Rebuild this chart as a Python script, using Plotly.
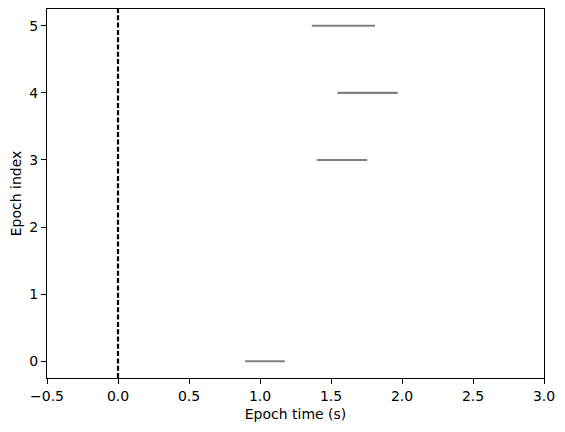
import plotly.graph_objects as go

epoch_index = [0, 3, 4, 5]
start_times = [0.895, 1.40, 1.545, 1.365]
end_times = [1.175, 1.755, 1.97, 1.81]
x_ticks = [-0.5, 0.0, 0.5, 1.0, 1.5, 2.0, 2.5, 3.0]
x_tick_labels = ["\u22120.5", "0.0", "0.5", "1.0", "1.5", "2.0", "2.5", "3.0"]
y_ticks = [0, 1, 2, 3, 4, 5]

fig = go.Figure()
xs, ys = [], []
for e, s, t in zip(epoch_index, start_times, end_times):
    xs += [s, t, None]
    ys += [e, e, None]
fig.add_trace(go.Scatter(x=xs, y=ys, mode="lines",
                         line=dict(color="#808080", width=2.1),
                         showlegend=False, hoverinfo="skip"))
fig.add_trace(go.Scatter(x=[0, 0], y=[-0.25, 5.25], mode="lines",
                         line=dict(color="black", width=2.2, dash="5px,2.3px"),
                         showlegend=False, hoverinfo="skip"))

axis_common = dict(showgrid=False, zeroline=False, showline=True, linecolor="black",
                   linewidth=1, mirror=True, ticks="outside", ticklen=5, tickwidth=1,
                   tickcolor="black", tickfont=dict(family="DejaVu Sans", size=14, color="black"))
fig.update_xaxes(range=[-0.5, 3.0], tickvals=x_ticks, ticktext=x_tick_labels,
                 title=dict(text="Epoch time (s)", font=dict(family="DejaVu Sans", size=14, color="black"), standoff=6),
                 **axis_common)
fig.update_yaxes(range=[-0.25, 5.25], tickvals=y_ticks,
                 title=dict(text="Epoch index", font=dict(family="DejaVu Sans", size=14, color="black"), standoff=8),
                 **axis_common)
fig.update_layout(width=549, height=416, margin=dict(l=39, r=13, t=1, b=46, autoexpand=False),
                  plot_bgcolor="white", paper_bgcolor="white",
                  font=dict(family="DejaVu Sans", size=14, color="black"))
fig.write_html("out.html")
